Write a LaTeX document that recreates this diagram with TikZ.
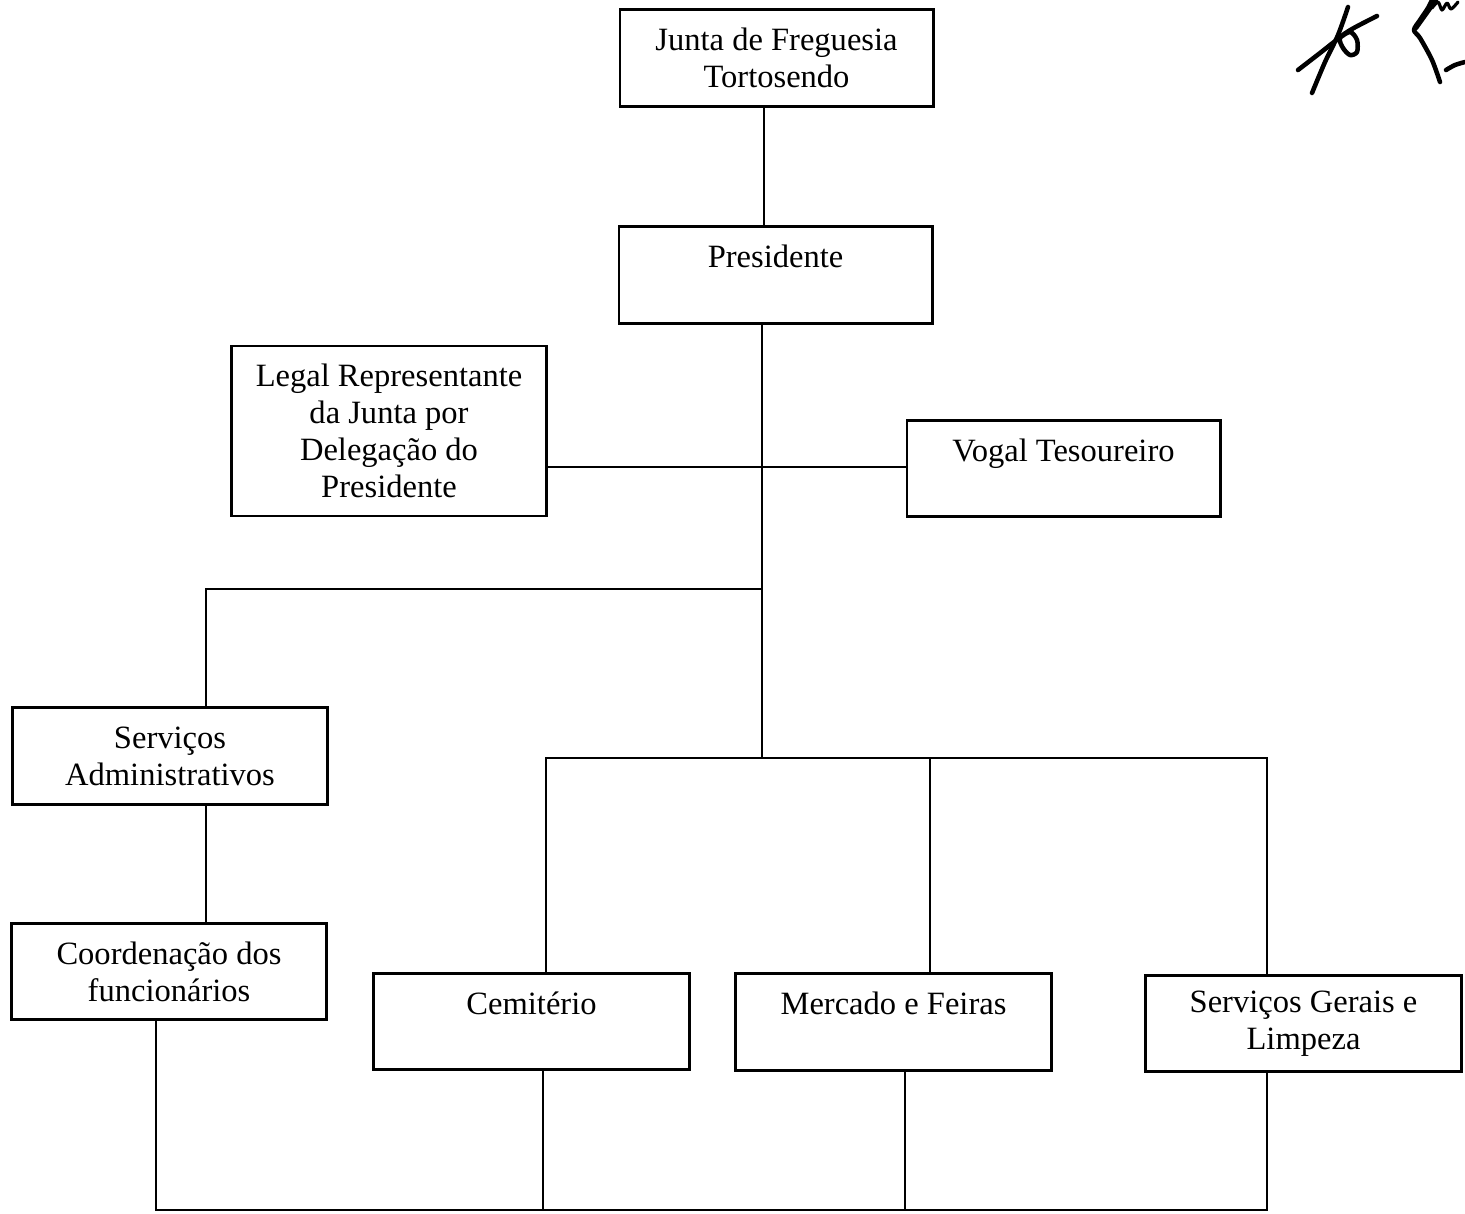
\documentclass[tikz,border=0pt]{standalone}
\usepackage{fontspec}
\setmainfont{Liberation Serif}
\begin{document}
\begin{tikzpicture}[x=0.375pt,y=-0.375pt,
  box/.style={draw, line width=1.1pt, inner sep=0pt, align=center,
    font=\fontsize{12.2}{13.9}\selectfont},
  wA/.style={minimum width=117.4pt},
  wB/.style={minimum width=118.3pt},
  hA/.style={minimum height=36.2pt},
  conn/.style={line width=0.95pt},
  sig/.style={line width=1.7pt, line cap=round, line join=round}]
\useasboundingbox (0,0) rectangle (1465,1213);
% boxes
\node[box,wA,hA] (junta) at (776.5,58) {Junta de Freguesia\\Tortosendo};
\node[box,wA,hA] (pres) at (775.5,275) {\strut Presidente\\[-3pt]\strut};
\node[box,wB,minimum height=63.75pt] (legal) at (389,431) {Legal Representante\\da Junta por\\Delegação do\\Presidente};
\node[box,wA,hA] (vogal) at (1063.5,468.5) {\strut Vogal Tesoureiro\\[-3pt]\strut};
\node[box,wB,hA] (sadm) at (170,756) {Serviços\\Administrativos};
\node[box,wB,hA] (coord) at (169,971.5) {Coordenação dos\\funcionários};
\node[box,wB,hA] (cemit) at (531.5,1021.5) {\strut Cemitério\\[-3pt]\strut};
\node[box,wB,hA] (merc) at (893.5,1022) {\strut Mercado e Feiras\\[-3pt]\strut};
\node[box,wB,hA] (sgl) at (1303.5,1023.5) {Serviços Gerais e\\Limpeza};
% junction coordinates
\coordinate (tx) at (764,0);
\coordinate (mx) at (762,0);
\coordinate (h1) at (0,467);
\coordinate (j2) at (762,589);
\coordinate (c2) at (206,589);
\coordinate (j3) at (762,758);
\coordinate (c3l) at (546,758);
\coordinate (c3m) at (930,758);
\coordinate (c3r) at (1267,758);
\coordinate (ax) at (206,0);
\coordinate (bl) at (156,1210);
\coordinate (bc) at (543,1210);
\coordinate (bm) at (905,1210);
\coordinate (br) at (1267,1210);
% connectors
\draw[conn] (junta.south -| tx) -- (pres.north -| tx);
\draw[conn] (pres.south -| mx) -- (j3);
\draw[conn] (legal.east |- h1) -- (vogal.west |- h1);
\draw[conn] (j2) -- (c2) -- (sadm.north -| c2);
\draw[conn] (c3l |- cemit.north) -- (c3l) -- (c3r) -- (c3r |- sgl.north);
\draw[conn] (c3m) -- (c3m |- merc.north);
\draw[conn] (sadm.south -| ax) -- (coord.north -| ax);
\draw[conn] (coord.south -| bl) -- (bl) -- (br) -- (sgl.south -| br);
\draw[conn] (cemit.south -| bc) -- (bc);
\draw[conn] (merc.south -| bm) -- (bm);
% signature marks
\draw[sig] plot[smooth] coordinates {(1348,7) (1338,35) (1325,62) (1312,93)};
\draw[sig] plot[smooth] coordinates {(1298,70) (1320,53) (1338,39) (1350,32) (1357,40) (1357,52) (1350,55) (1343,48) (1340,38) (1352,29) (1377,16)};
\draw[sig] plot[smooth] coordinates {(1440,82) (1432,60) (1420,38) (1414,30) (1420,20) (1428,8) (1432,0)};
\draw[sig] plot[smooth] coordinates {(1416,28) (1426,14) (1436,0)};
\draw[sig, line width=1.2pt] plot[smooth] coordinates {(1432,8) (1438,2) (1442,10) (1447,3) (1451,9) (1458,2)};
\draw[sig] plot[smooth] coordinates {(1446,70) (1455,65) (1465,62)};
\end{tikzpicture}
\end{document}
